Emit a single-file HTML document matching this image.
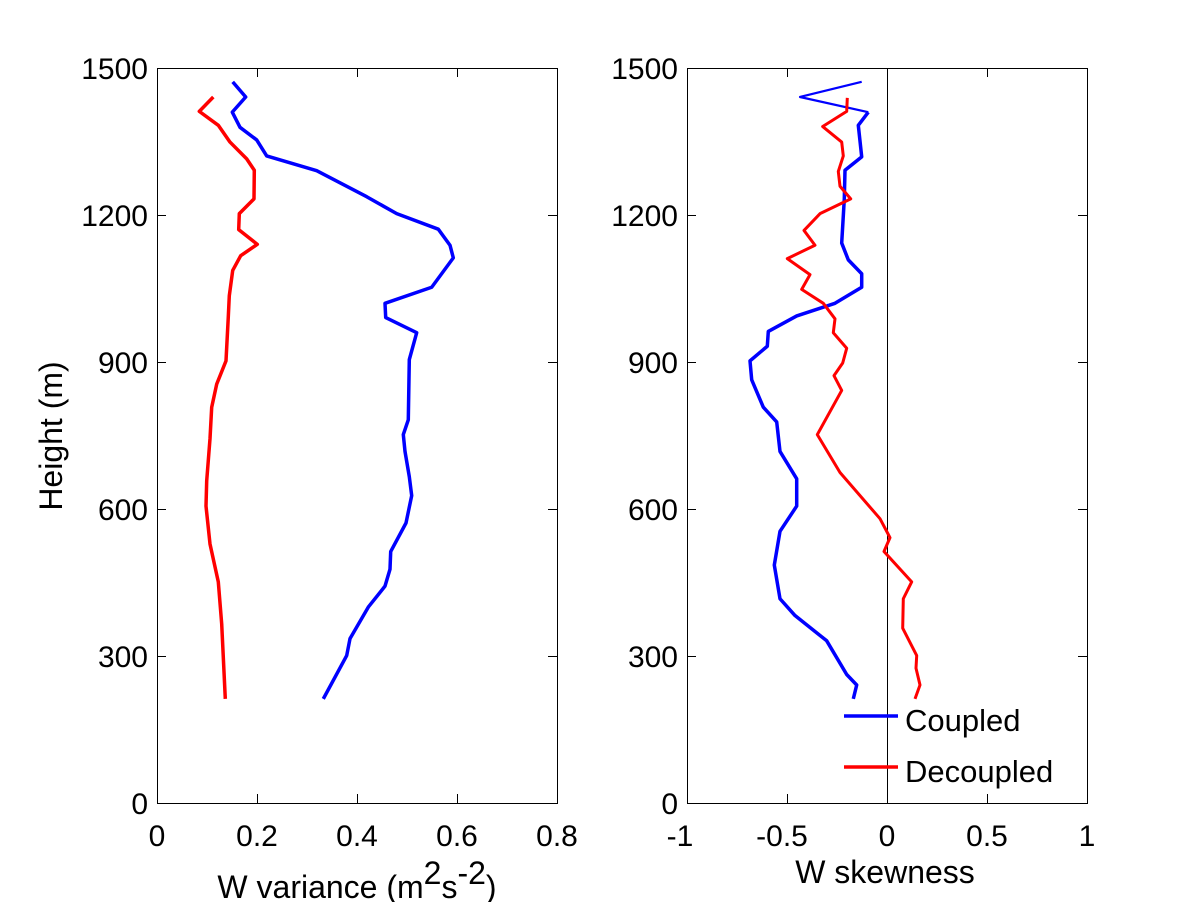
<!DOCTYPE html>
<html><head><meta charset="utf-8"><style>
html,body{margin:0;padding:0;background:#fff}
svg{display:block}
text{font-family:"Liberation Sans",sans-serif;fill:#000}
</style></head><body>
<svg width="1201" height="902" viewBox="0 0 1201 902" xmlns="http://www.w3.org/2000/svg">
<rect width="1201" height="902" fill="#fff"/>
<g stroke="#000" stroke-width="1" fill="none">
<rect x="157.5" y="68.5" width="400" height="735"/>
<rect x="687.5" y="68.5" width="400" height="735"/>
<line x1="887.5" y1="68" x2="887.5" y2="803"/>
<path d="M257.5 803v-9M357.5 803v-9M457.5 803v-9M257.5 68v9M357.5 68v9M457.5 68v9
M157 656.5h9M157 509.5h9M157 362.5h9M157 215.5h9M557 656.5h-9M557 509.5h-9M557 362.5h-9M557 215.5h-9
M787.5 803v-9M987.5 803v-9M787.5 68v9M987.5 68v9
M687 656.5h9M687 509.5h9M687 362.5h9M687 215.5h9M1087 656.5h-9M1087 509.5h-9M1087 362.5h-9M1087 215.5h-9"/>
</g>
<g font-size="30" text-anchor="end">
<text x="148" y="814">0</text><text x="148" y="667">300</text><text x="148" y="520">600</text><text x="148" y="373">900</text><text x="148" y="226">1200</text><text x="148" y="79">1500</text>
<text x="678" y="814">0</text><text x="678" y="667">300</text><text x="678" y="520">600</text><text x="678" y="373">900</text><text x="678" y="226">1200</text><text x="678" y="79">1500</text>
</g>
<g font-size="30" text-anchor="middle">
<text x="157" y="846">0</text><text x="257" y="846">0.2</text><text x="357" y="846">0.4</text><text x="457" y="846">0.6</text><text x="557" y="846">0.8</text>
<text x="680" y="846">-1</text><text x="782" y="846">-0.5</text><text x="887" y="846">0</text><text x="987" y="846">0.5</text><text x="1087" y="846">1</text>
</g>
<g font-size="32" text-anchor="middle">
<text x="885" y="883">W skewness</text>
<text x="357" y="898">W variance (m<tspan dy="-14">2</tspan><tspan dy="14">s</tspan><tspan dy="-14">-2</tspan><tspan dy="14">)</tspan></text>
<text transform="translate(62,436) rotate(-90)">Height (m)</text>
</g>
<g fill="none" stroke-width="3.5" stroke-linejoin="round" transform="translate(0,60) scale(1,1.2626) translate(0,-60)">
<polyline vector-effect="non-scaling-stroke" stroke="#00f" points="232.7,77.3 245.7,89.3 232.3,101.3 240,113.3 256.7,123.3 266.7,136 316.7,147.7 366.7,168.3 396.7,181.7 438.3,194 450,206.7 453.3,216.7 431.7,240 385,252.7 385.7,264 416.7,276 409.3,297.3 408.3,345 403.3,356.7 405,370 409.3,390 411.7,405 406,426.7 390.7,449.3 390,463.3 385,476.7 368.3,493.3 350,518.3 346.7,531.7 323.3,566"/>
<polyline vector-effect="non-scaling-stroke" stroke="#f00" points="213.3,89.3 199.3,100.7 218.3,111.7 230,125 246.7,138.3 254.3,147.3 254,170 239.3,181.7 238.7,194.3 257.3,206 240.7,215 232.7,226.7 229.3,246.7 228.3,263.3 226,298.3 216.7,316.7 211.7,335 210,360 206.7,393.3 206,413.3 210,443.3 218.3,473.3 221.7,506.7 225.3,566"/>
<polyline vector-effect="non-scaling-stroke" stroke="#00f" stroke-width="2.2" points="861.7,77.3 800,89.3 868.3,101.3"/>
<polyline vector-effect="non-scaling-stroke" stroke="#00f" points="868.3,101.3 858.3,111.7 861.7,136.7 845,147.3 844.3,170 841.7,205 848.3,218.3 861.7,229.3 861.7,240 835,252.7 796.7,262.7 768.3,275 767.3,286.7 750,298.3 751.7,313.3 763.3,335 776.7,346.7 780,370 796.7,391.7 796.7,413.3 780,433.3 774.3,460 780,486.7 795,500 826.7,520 846.7,546.7 856.7,555 853.3,566"/>
<polyline vector-effect="non-scaling-stroke" stroke="#f00" stroke-width="3" points="847.3,90 846.7,100.7 822.7,112.7 841.7,125 843.3,136 838.3,148.3 840,160 850.7,170 820,181.7 804,195 815,206.7 787.3,217.3 810,230 801.7,241.7 823.3,252.7 835,265 833.3,276 846.7,288.3 842.7,300 834,310 841.7,321.7 817.3,356.7 840,386.7 880,423.3 890,438.3 884,449.3 911.7,473.3 903.3,486.7 902.7,510 916.7,531.7 916,541.7 920,555 915,566"/>
</g>
<g stroke-width="3.5">
<line x1="844" y1="716" x2="898" y2="716" stroke="#00f"/>
<line x1="844" y1="767" x2="898" y2="767" stroke="#f00"/>
</g>
<g font-size="31">
<text x="905" y="731">Coupled</text>
<text x="905" y="782">Decoupled</text>
</g>
</svg>
</body></html>
